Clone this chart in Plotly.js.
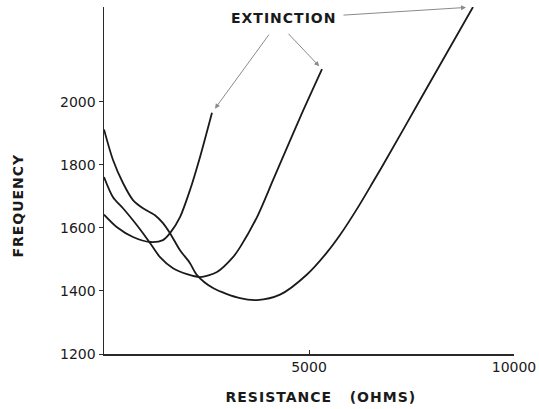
<!DOCTYPE html>
<html><head><meta charset="utf-8">
<script src="https://cdn.plot.ly/plotly-3.0.1.min.js"></script>
<style>html,body{margin:0;padding:0;background:#fff}</style>
</head><body>
<div id="chart" style="width:539px;height:409px"></div>
<script>
// Resistance (ohms) and frequency readings for the three curves
const curveAx = [0, 317, 707, 1122, 1439, 1610, 1854, 2098, 2341, 2585, 2634];
const curveAy = [1642, 1602, 1571, 1555, 1561, 1583, 1634, 1720, 1824, 1941, 1965];

const curveBx = [0, 220, 463, 707, 951, 1122, 1366, 1683, 2024, 2341, 2756, 3146, 3317, 3732, 4122, 4366, 4800, 5317];
const curveBy = [1761, 1697, 1662, 1624, 1583, 1552, 1507, 1472, 1453, 1444, 1460, 1507, 1538, 1634, 1751, 1825, 1955, 2103];

const curveCx = [0, 220, 463, 707, 951, 1244, 1439, 1610, 1854, 2098, 2268, 2659, 3317, 3732, 4293, 4951, 5439, 5756, 6171, 6561, 6854, 7707, 9000];
const curveCy = [1912, 1815, 1742, 1688, 1662, 1640, 1615, 1583, 1529, 1488, 1450, 1409, 1377, 1371, 1388, 1452, 1522, 1577, 1660, 1745, 1810, 2005, 2300];

const yTicks = [1200, 1400, 1600, 1800, 2000];
const xTicks = [5000, 10000];
const xTickText = ['5000', '10000'];
const labelText = 'EXTINCTION';
const xTitle = 'RESISTANCE\u00a0\u00a0\u00a0(OHMS)';
const yTitle = 'FREQUENCY';

const lineStyle = {color: '#1a1a1a', width: 1.8, shape: 'spline', smoothing: 0.8};
const mk = (x, y) => ({x, y, type: 'scatter', mode: 'lines', line: lineStyle, hoverinfo: 'skip', showlegend: false});

const last = a => a[a.length - 1];
const arrow = (x, y, ax, ay, standoff) => ({
  x, y, xref: 'x', yref: 'y', ax, ay, axref: 'x', ayref: 'y',
  text: '', showarrow: true, arrowhead: 2, arrowsize: 1, arrowwidth: 1,
  arrowcolor: '#8a8a8a', standoff
});

const layout = {
  width: 539, height: 409,
  margin: {l: 104, r: 25, t: 7, b: 55},
  paper_bgcolor: '#fff', plot_bgcolor: '#fff',
  font: {family: 'DejaVu Sans', size: 14, color: '#1a1a1a'},
  xaxis: {
    range: [0, 10000], showgrid: false, zeroline: false,
    showline: true, linecolor: '#2a2a2a', linewidth: 1.5,
    tickvals: xTicks, ticktext: xTickText, ticks: 'inside', ticklen: 4,
    tickcolor: '#2a2a2a', tickfont: {family: 'DejaVu Sans', size: 14, color: '#1a1a1a'}
  },
  yaxis: {
    range: [1200, 2300], showgrid: false, zeroline: false,
    showline: true, linecolor: '#2a2a2a', linewidth: 1.5,
    tickvals: yTicks, ticks: 'outside', ticklen: 4, tickcolor: '#2a2a2a',
    tickfont: {family: 'DejaVu Sans', size: 14, color: '#1a1a1a'}
  },
  annotations: [
    {x: 4378, y: 2265, xref: 'x', yref: 'y', text: labelText, showarrow: false,
     font: {family: 'DejaVu Sans', size: 14, weight: 'bold', color: '#1a1a1a'}},
    arrow(last(curveAx), last(curveAy), 4049, 2217, 5),
    arrow(last(curveBx), last(curveBy), 4463, 2220, 4),
    arrow(last(curveCx), last(curveCy), 5805, 2274, 7),
    {x: 0.529, y: -0.124, xref: 'paper', yref: 'paper', text: xTitle, showarrow: false,
     xanchor: 'center', yanchor: 'middle',
     font: {family: 'DejaVu Sans', size: 14, weight: 'bold', color: '#1a1a1a'}},
    {x: -0.2098, y: 0.429, xref: 'paper', yref: 'paper', text: yTitle, showarrow: false,
     textangle: -90, xanchor: 'center', yanchor: 'middle',
     font: {family: 'DejaVu Sans', size: 14, weight: 'bold', color: '#1a1a1a'}}
  ]
};

Plotly.newPlot('chart', [mk(curveAx, curveAy), mk(curveBx, curveBy), mk(curveCx, curveCy)], layout, {staticPlot: true})
  .then(() => {
    document.querySelectorAll('.annotation-text').forEach(t => { t.style.letterSpacing = '1px'; });
  });
</script>
</body></html>
